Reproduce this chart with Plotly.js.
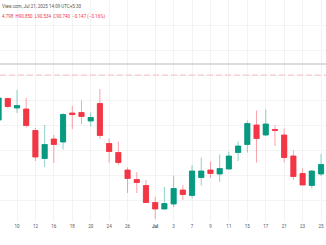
<!DOCTYPE html>
<html><head><meta charset="utf-8">
<script src="https://cdn.plot.ly/plotly-3.0.1.min.js"></script>
<style>html,body{margin:0;padding:0;background:#fff;}#c{width:326px;height:245px;}</style>
</head><body><div id="c"></div>
<script>
const dates = ["2025-06-06","2025-06-09","2025-06-10","2025-06-11","2025-06-12","2025-06-13","2025-06-16","2025-06-17","2025-06-18","2025-06-19","2025-06-20","2025-06-23","2025-06-24","2025-06-25","2025-06-26","2025-06-27","2025-06-30","2025-07-01","2025-07-02","2025-07-03","2025-07-04","2025-07-07","2025-07-08","2025-07-09","2025-07-10","2025-07-11","2025-07-14","2025-07-15","2025-07-16","2025-07-17","2025-07-18","2025-07-21","2025-07-22","2025-07-23","2025-07-24","2025-07-25"];
const openP  = [91.60,92.03,91.84,91.82,91.39,90.83,91.22,91.16,91.74,91.75,91.58,91.93,91.13,90.95,90.60,90.41,90.29,89.95,89.82,89.92,90.20,90.09,90.45,90.60,90.52,90.62,90.95,91.11,91.50,91.30,91.41,91.30,90.88,90.53,90.29,90.52];
const highP  = [92.10,92.05,92.20,92.04,91.44,91.50,91.30,91.74,91.88,91.99,91.75,92.22,91.23,91.17,90.65,90.56,90.40,90.06,90.26,90.49,90.30,90.70,90.85,90.77,90.91,90.97,91.17,91.59,91.79,91.81,91.50,91.43,90.99,90.63,90.60,90.92];
const lowP   = [91.56,91.84,91.74,91.45,90.78,90.66,90.74,91.01,91.42,91.52,91.47,91.22,90.75,90.70,90.14,90.14,89.94,89.62,89.81,89.86,90.00,90.03,90.29,90.44,90.36,90.60,90.78,90.95,90.75,91.28,91.08,90.75,90.40,90.30,90.23,90.48];
const closeP = [92.04,91.87,91.89,91.49,90.86,91.11,91.11,91.71,91.71,91.67,91.65,91.29,90.97,90.75,90.43,90.35,89.95,89.82,89.93,90.23,90.11,90.58,90.58,90.53,90.63,90.88,91.08,91.53,91.23,91.52,91.39,90.85,90.47,90.30,90.58,90.71];
const tickDates = ["2025-06-10","2025-06-12","2025-06-16","2025-06-18","2025-06-20","2025-06-24","2025-06-26","2025-07-01","2025-07-03","2025-07-07","2025-07-09","2025-07-11","2025-07-15","2025-07-17","2025-07-21","2025-07-23","2025-07-25"];
const tickLabels = ["10","12","16","18","20","24","26","<b>Jul</b>","3","7","9","11","15","17","21","23","25"];
const refSolid = 92.72;
const refDashed = 92.50;
const headerLine1 = "View.com, Jul 21, 2025 14:09 UTC+5:30";
const headerLine2 = "4.798  H90.850  L90.534  C90.740  −0.147 (−0.16%)";

const UP = "#089981", DN = "#f23645";
const bodyHigh = openP.map((o,i)=>Math.max(o,closeP[i]));
const bodyLow = openP.map((o,i)=>Math.min(o,closeP[i]));

const wicks = {
  type:"candlestick", x:dates, open:openP, high:highP, low:lowP, close:closeP,
  increasing:{line:{color:"rgba(8,153,129,0.45)",width:1},fillcolor:UP},
  decreasing:{line:{color:"rgba(242,54,69,0.45)",width:1},fillcolor:DN},
  whiskerwidth:0, showlegend:false, hoverinfo:"skip"
};
const bodies = {
  type:"candlestick", x:dates, open:openP, high:bodyHigh, low:bodyLow, close:closeP,
  increasing:{line:{color:UP,width:0.5},fillcolor:UP},
  decreasing:{line:{color:DN,width:0.5},fillcolor:DN},
  whiskerwidth:0, showlegend:false
};

const layout = {
  width:326, height:245,
  margin:{l:0,r:0,t:0,b:23},
  paper_bgcolor:"#fff", plot_bgcolor:"#fff",
  boxgap:0.2,
  showlegend:false,
  xaxis:{type:"category", range:[0.155,35.54], tickvals:tickDates, ticktext:tickLabels,
    showgrid:true, gridcolor:"#f3f3f3", gridwidth:1, zeroline:false, showline:false,
    ticks:"", tickfont:{family:"Roboto, Arial, sans-serif", size:4.5, color:"#555"},
    rangeslider:{visible:false}, fixedrange:true},
  yaxis:{range:[89.56,94.0], showticklabels:false, showgrid:true, gridcolor:"#f3f3f3",
    dtick:0.5, zeroline:false, showline:false, ticks:""},
  shapes:[
    {type:"line", xref:"paper", x0:0, x1:1, yref:"y", y0:refSolid, y1:refSolid, line:{color:"#dcdcdc", width:2}},
    {type:"line", xref:"paper", x0:0, x1:1, yref:"y", y0:refDashed, y1:refDashed, line:{color:"rgba(242,54,69,0.3)", width:1, dash:"6px,3px"}}
  ],
  annotations:[
    {xref:"paper", yref:"paper", x:0, y:1, xanchor:"left", yanchor:"top", yshift:-2, showarrow:false,
     text:headerLine1, font:{family:"Roboto, Arial, sans-serif", size:4.5, color:"#555"}},
    {xref:"paper", yref:"paper", x:0, y:1, xanchor:"left", yanchor:"top", yshift:-11, showarrow:false,
     text:headerLine2, font:{family:"Roboto, Arial, sans-serif", size:4.5, color:DN}}
  ]
};
Plotly.newPlot("c", [wicks, bodies], layout, {staticPlot:true, displayModeBar:false});
</script></body></html>
